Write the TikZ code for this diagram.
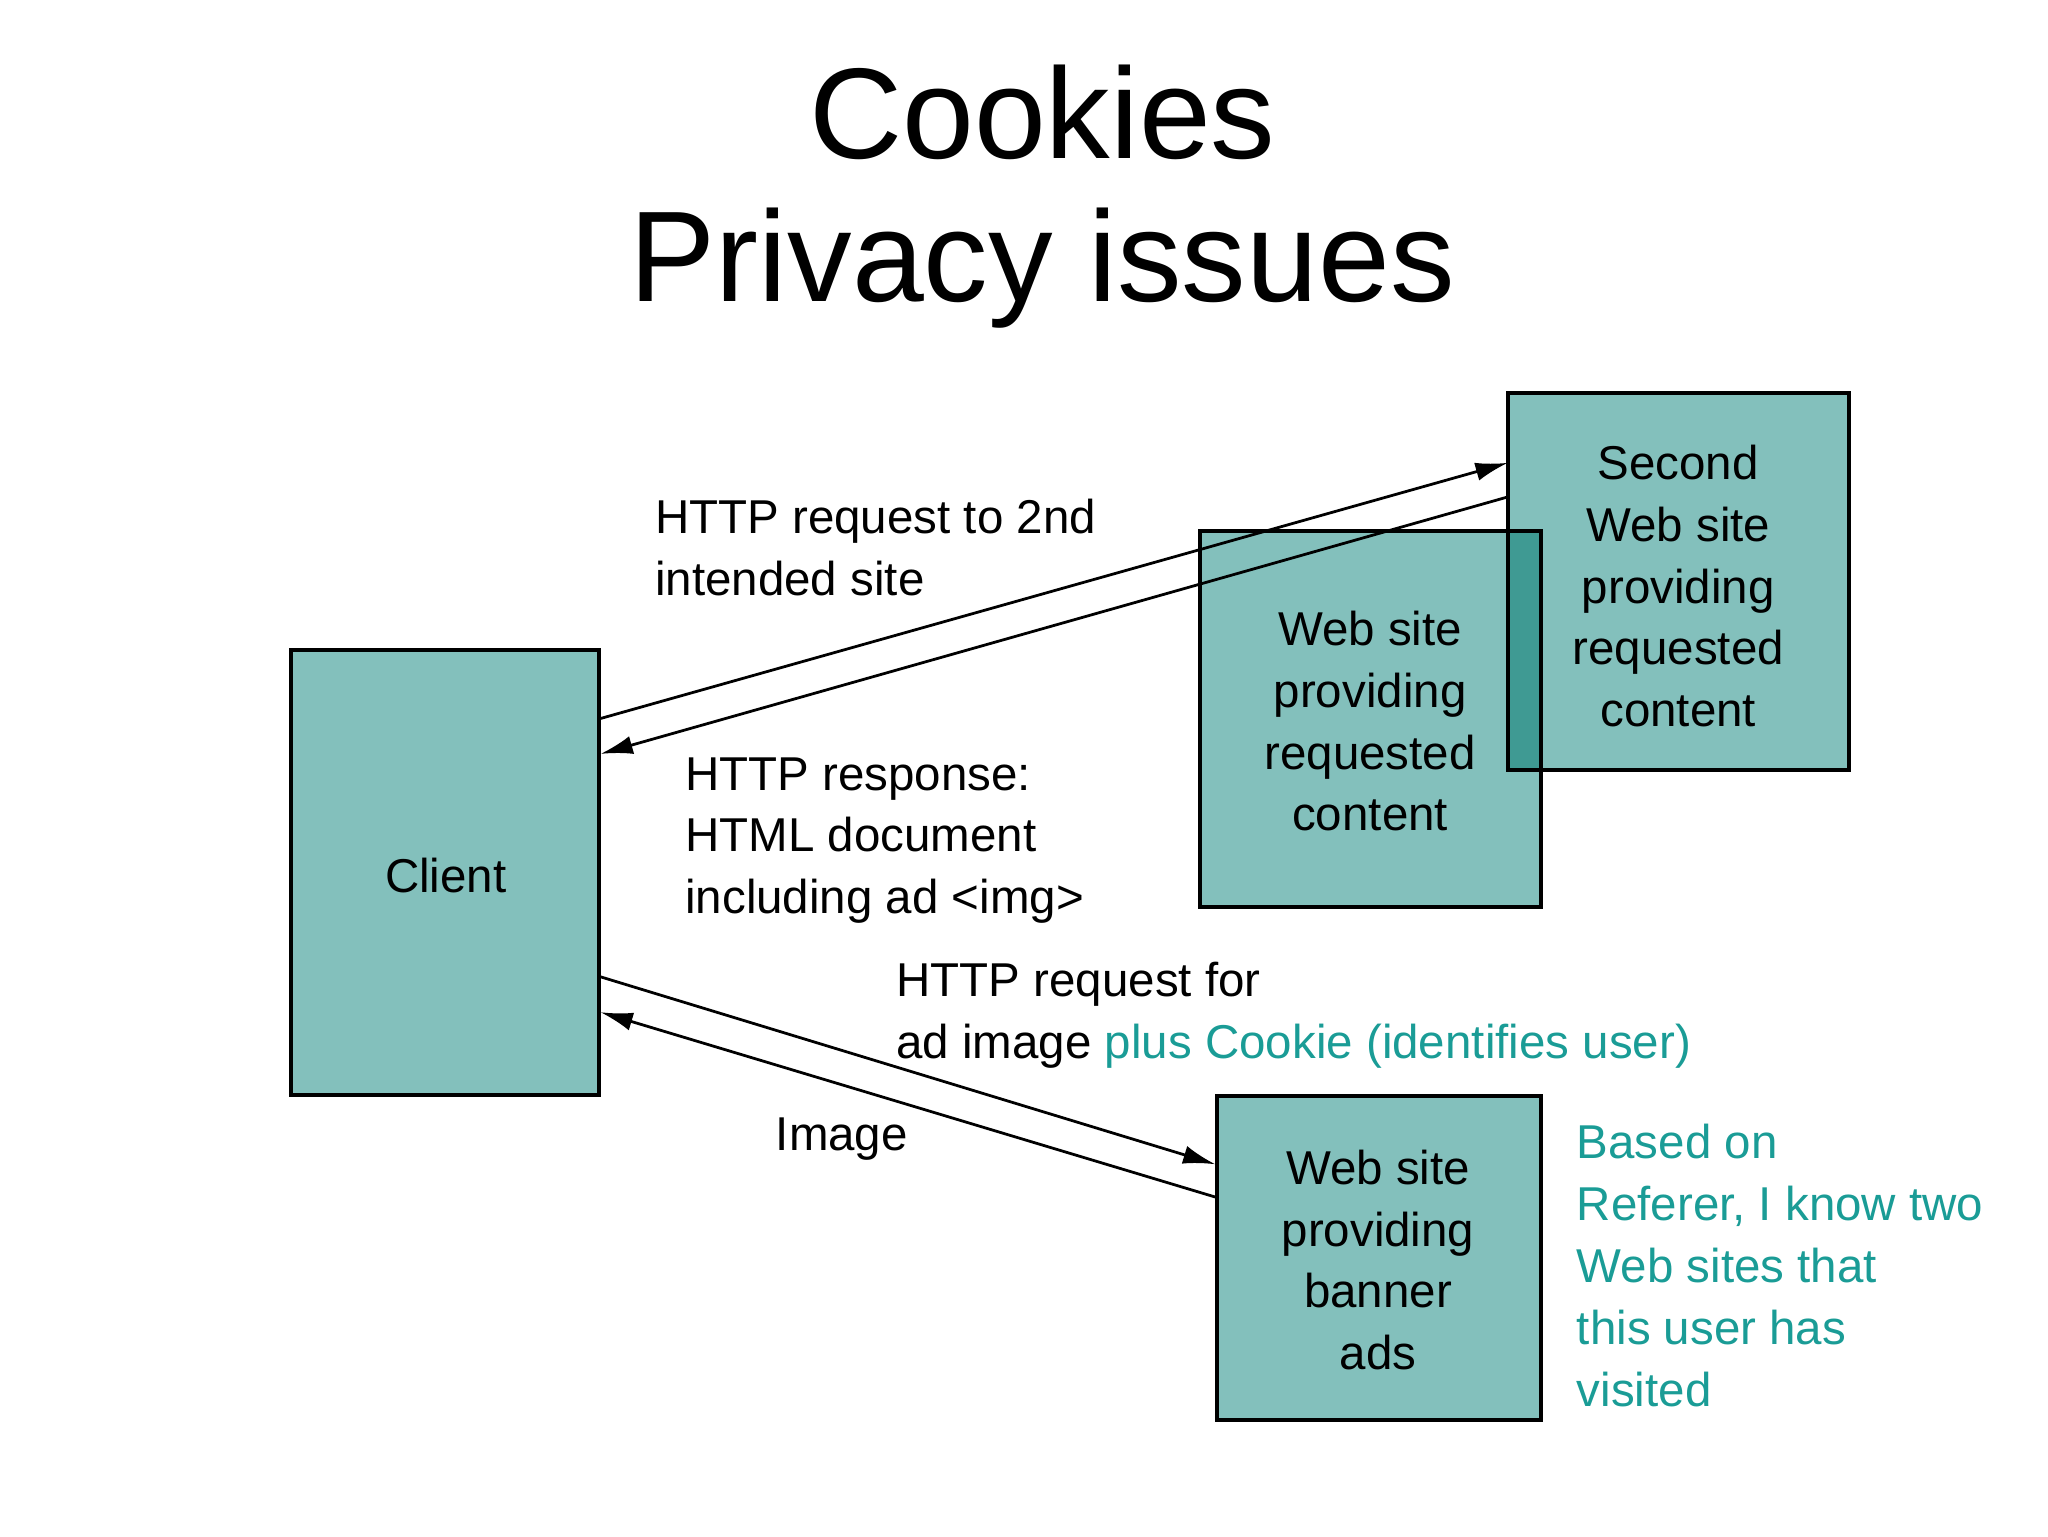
\documentclass[tikz,border=0pt]{standalone}
\usepackage{fontspec}
\setmainfont{Liberation Sans}
\usetikzlibrary{arrows.meta}
\definecolor{boxfill}{HTML}{83C0BC}
\definecolor{overlap}{HTML}{3F9A93}
\definecolor{tealtxt}{HTML}{1A9C96}
\begin{document}
\begin{tikzpicture}[x=0.01cm,y=-0.01cm,
  box/.style={draw=black,line width=0.9pt,fill=boxfill},
  lbl/.style={font=\fontsize{10.3pt}{13.4pt}\selectfont,align=left,anchor=north west,inner sep=0pt},
  clbl/.style={font=\fontsize{10.3pt}{13.4pt}\selectfont,align=center,inner sep=0pt},
  arr/.style={line width=0.6pt,-{Latex[length=7pt,width=4pt]}}]
\useasboundingbox (0,0) rectangle (1562,1172);
\node[font=\fontsize{28pt}{31pt}\selectfont,align=center] (title) at (795,150) {Cookies\\Privacy issues};
% boxes
\draw[box] (222,496) rectangle (457,835);
\node[clbl] (client) at (340,668) {Client};
\draw[box] (915,405) rectangle (1175,692);
\draw[box] (1150,300) rectangle (1410,587);
\fill[overlap] (1150.5,405.5) rectangle (1174.5,586.5);
\draw[line width=0.9pt] (1150,405) -- (1150,587) -- (1175,587) (1150,405)--(1175,405)--(1175,587);
\draw[box] (928,836) rectangle (1175,1083);
\node[clbl] (first) at (1045,550) {Web site\\providing\\requested\\content};
\node[clbl] (second) at (1280,447) {Second\\Web site\\providing\\requested\\content};
\node[clbl] (ads) at (1051,961) {Web site\\providing\\banner\\ads};
% connector endpoints
\coordinate (c1) at (458,548); \coordinate (s1) at (1150,353);
\coordinate (s2) at (1150,379); \coordinate (c2) at (458,575);
\coordinate (c3) at (458,745); \coordinate (a1) at (927,888);
\coordinate (a2) at (927,913); \coordinate (c4) at (458,772);
\draw[arr] (c1) -- (s1);
\draw[arr] (s2) -- (c2);
\draw[arr] (c3) -- (a1);
\draw[arr] (a2) -- (c4);
% labels
\node[lbl] (l1) at (499,380) {HTTP request to 2nd\\intended site};
\node[lbl] (l2) at (522,577) {HTTP response:\\HTML document\\including ad <img>};
\node[lbl] (l3) at (683,733) {HTTP request for\\ad image \textcolor{tealtxt}{plus Cookie (identifies user)}};
\node[lbl] (l4) at (591,852) {Image};
\node[lbl,text=tealtxt] (l5) at (1202,857) {Based on\\Referer, I know two\\Web sites that\\this user has\\visited};
\end{tikzpicture}
\end{document}
